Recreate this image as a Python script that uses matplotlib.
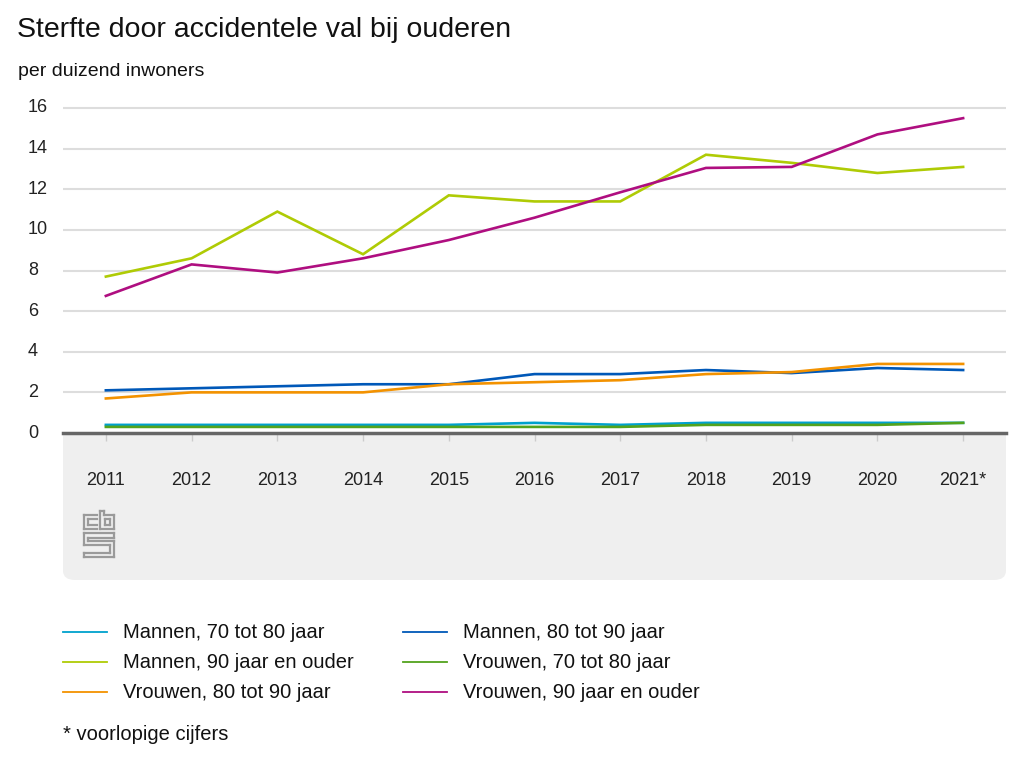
import matplotlib
matplotlib.use("Agg")
import matplotlib.pyplot as plt
from matplotlib.patches import FancyBboxPatch
from matplotlib.lines import Line2D

plt.rcParams['font.family'] = ['Liberation Sans', 'DejaVu Sans']

years = ['2011', '2012', '2013', '2014', '2015', '2016', '2017', '2018', '2019', '2020', '2021*']
series_names = ['Mannen, 70 tot 80 jaar', 'Mannen, 80 tot 90 jaar',
                'Mannen, 90 jaar en ouder', 'Vrouwen, 70 tot 80 jaar',
                'Vrouwen, 80 tot 90 jaar', 'Vrouwen, 90 jaar en ouder']
mannen_70_80 = [0.4, 0.4, 0.4, 0.4, 0.4, 0.5, 0.4, 0.5, 0.5, 0.5, 0.5]
mannen_80_90 = [2.1, 2.2, 2.3, 2.4, 2.4, 2.9, 2.9, 3.1, 2.95, 3.2, 3.1]
mannen_90 = [7.7, 8.6, 10.9, 8.8, 11.7, 11.4, 11.4, 13.7, 13.3, 12.8, 13.1]
vrouwen_70_80 = [0.3, 0.3, 0.3, 0.3, 0.3, 0.3, 0.3, 0.4, 0.4, 0.4, 0.5]
vrouwen_80_90 = [1.7, 2.0, 2.0, 2.0, 2.4, 2.5, 2.6, 2.9, 3.0, 3.4, 3.4]
vrouwen_90 = [6.75, 8.3, 7.9, 8.6, 9.5, 10.6, 11.85, 13.05, 13.1, 14.7, 15.5]
series = [mannen_70_80, mannen_80_90, mannen_90, vrouwen_70_80, vrouwen_80_90, vrouwen_90]
colors = ['#00a1cd', '#0058b8', '#afcb05', '#53a31d', '#f39200', '#af0e80']
yticks = [0, 2, 4, 6, 8, 10, 12, 14, 16]

W, H = 1024, 768
fig = plt.figure(figsize=(W / 100, H / 100), dpi=100)

def fx(px):
    return px / W

def fy(py):
    return 1 - py / H

# gray panel beneath axis
panel = FancyBboxPatch((fx(63), fy(580)), fx(1006) - fx(63), fy(440) - fy(580),
                       boxstyle="round,pad=0,rounding_size=0.012",
                       transform=fig.transFigure, facecolor='#efefef', edgecolor='none', zorder=-2)
fig.patches.append(panel)
fig.patches.append(FancyBboxPatch((fx(63), fy(460)), fx(1006) - fx(63), fy(433) - fy(460),
                                  boxstyle="square,pad=0", transform=fig.transFigure,
                                  facecolor='#efefef', edgecolor='none', zorder=-2))

ax_top, ax_bot = 98, 433
ax = fig.add_axes([fx(63), fy(ax_bot), fx(1006) - fx(63), fy(ax_top) - fy(ax_bot)])
ax.set_facecolor('none')
x = list(range(len(years)))
ax.set_xlim(-0.5, len(years) - 0.5)
ax.set_ylim(0, 16 * (ax_bot - ax_top) / (433 - 108))

for yv in yticks[1:]:
    ax.axhline(yv, color='#dddddd', lw=1.5, zorder=1)
ax.axhline(0, color='#666666', lw=2.5, zorder=4, clip_on=False)

for vals, c in zip(series, colors):
    ax.plot(x, vals, color=c, lw=1.9, zorder=3, solid_joinstyle='miter')

for s in ax.spines.values():
    s.set_visible(False)
ax.set_xticks(x)
ax.set_xticklabels(years, fontsize=13, color='#222222')
ax.tick_params(axis='x', length=6, color='#cccccc', width=1, pad=22)
ax.set_yticks([])
for yv in yticks:
    ax.text(-35 / 943, yv, str(yv), transform=ax.get_yaxis_transform(),
            ha='left', va='center', fontsize=13, color='#222222')

# titles
fig.text(fx(17), fy(30), 'Sterfte door accidentele val bij ouderen', fontsize=20.5,
         ha='left', va='center', color='#111111')
fig.text(fx(18), fy(71), 'per duizend inwoners', fontsize=14, ha='left', va='center', color='#111111')

# simple cbs logo sketch
lc = '#9a9a9a'
def seg(x0, y0, x1, y1):
    fig.add_artist(Line2D([fx(x0), fx(x1)], [fy(y0), fy(y1)], color=lc, lw=1.6,
                          transform=fig.transFigure))
# c
seg(84, 515, 97, 515); seg(84, 515, 84, 529); seg(84, 529, 97, 529)
seg(88, 519, 97, 519); seg(88, 519, 88, 525); seg(88, 525, 97, 525)
# b
seg(100, 511, 100, 529); seg(100, 529, 114, 529); seg(114, 529, 114, 515); seg(114, 515, 104, 515)
seg(104, 511, 104, 515); seg(104, 511, 100, 511)
seg(105, 519, 110, 519); seg(110, 519, 110, 525); seg(110, 525, 105, 525); seg(105, 525, 105, 519)
# s
seg(84, 533, 114, 533); seg(114, 533, 114, 538); seg(114, 538, 88, 538); seg(88, 538, 88, 541)
seg(88, 541, 114, 541); seg(114, 541, 114, 557); seg(114, 557, 84, 557); seg(84, 557, 84, 553)
seg(84, 553, 110, 553); seg(110, 553, 110, 545); seg(110, 545, 84, 545); seg(84, 545, 84, 533)

# legend
for i, (name, c) in enumerate(zip(series_names, colors)):
    row, col = i // 2, i % 2
    yy = 632 + row * 30
    x0 = 63 if col == 0 else 403
    fig.add_artist(Line2D([fx(x0), fx(x0 + 44)], [fy(yy), fy(yy)], color=c, lw=1.3,
                          transform=fig.transFigure))
    fig.text(fx(x0 + 60), fy(yy), name, fontsize=14.5, ha='left', va='center', color='#111111')

fig.text(fx(63), fy(734), '* voorlopige cijfers', fontsize=14.5, ha='left', va='center', color='#111111')

fig.savefig('out.png', dpi=100, facecolor='white')
